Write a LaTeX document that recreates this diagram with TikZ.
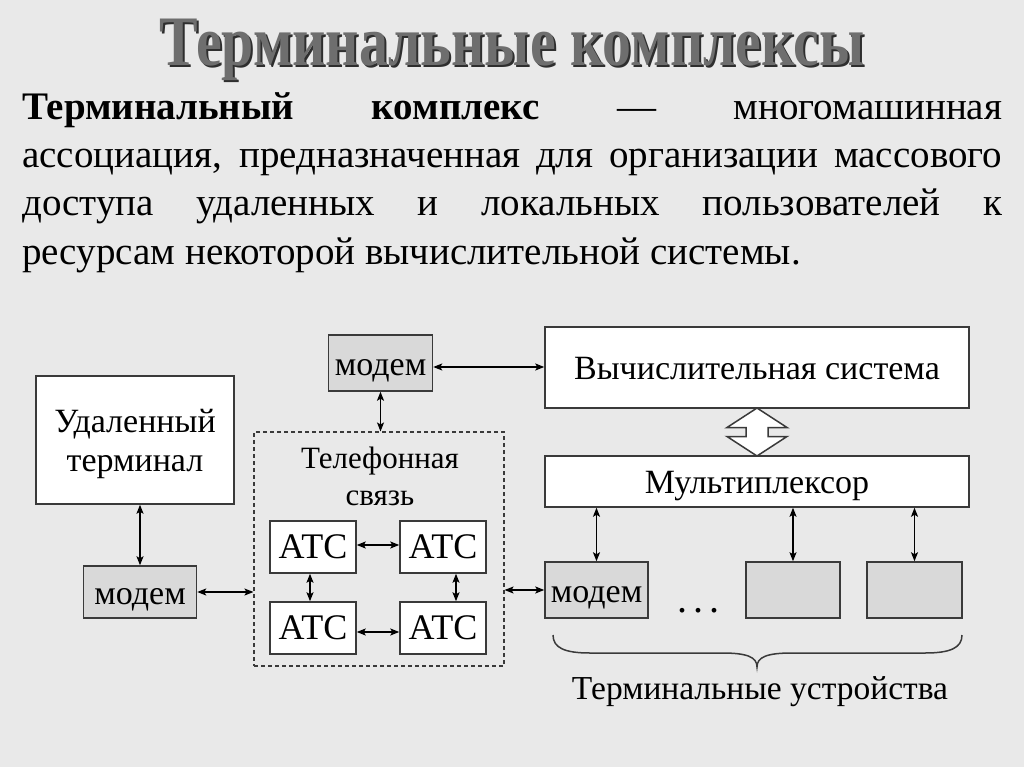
\documentclass[tikz,border=0pt]{standalone}
\usepackage{graphicx}
\usepackage{fontspec}
\setmainfont{Liberation Serif}
\usetikzlibrary{arrows.meta,calc}
\definecolor{bg}{HTML}{E9E9E9}
\definecolor{boxgray}{HTML}{D9D9D9}
\definecolor{edge}{HTML}{3A3A3A}
\definecolor{titlegray}{HTML}{6E6E6E}
\definecolor{titleshadow}{HTML}{2E2E2E}
\newcommand{\jline}[1]{\hbox to 980pt{\spaceskip=0.25em plus 1fil minus 0.1em #1}}
\begin{document}
\begin{tikzpicture}[x=1pt,y=-1pt,
  box/.style={draw=edge,line width=1.5pt,fill=white,inner sep=0pt,font=\fontsize{34}{38}\selectfont},
  onebox/.style={box,text height=24pt,text depth=0pt},
  graybox/.style={onebox,fill=boxgray},
  atcbox/.style={onebox,minimum width=86pt,minimum height=52pt,font=\fontsize{36}{40}\selectfont,text height=22pt},
  link/.style={{Stealth[length=9pt,width=7pt,inset=2pt]}-{Stealth[length=9pt,width=7pt,inset=2pt]},line width=1.4pt,black},
  bodyline/.style={anchor=base west,inner sep=0pt,font=\fontsize{39}{48}\selectfont},
  label/.style={anchor=base,inner sep=0pt,font=\fontsize{34}{38}\selectfont},
  titlefont/.style={anchor=base,inner sep=0pt,font=\fontsize{71}{72}\selectfont\bfseries},
]
\fill[bg] (0,0) rectangle (1024,767);
\useasboundingbox (0,0) rectangle (1024,767);

% title (shadow, then face)
\node[titlefont,text=titleshadow] (titleshadow) at (514,68) {\scalebox{0.815}[1]{Терминальные комплексы}};
\node[titlefont,text=titlegray] (title) at (512,66) {\scalebox{0.815}[1]{Терминальные комплексы}};

% body text
\node[bodyline] (l1) at (22,120) {\jline{\textbf{Терминальный} \textbf{комплекс} — многомашинная}};
\node[bodyline] (l2) at (22,168) {\jline{ассоциация, предназначенная для организации массового}};
\node[bodyline] (l3) at (22,216) {\jline{доступа удаленных и локальных пользователей к}};
\node[bodyline] (l4) at (22,264) {ресурсам некоторой вычислительной системы.};

% diagram nodes
\node[box,minimum width=198pt,minimum height=128pt] (term) at (135,440)
  {\raisebox{-11pt}[0pt][0pt]{\begin{tabular}{@{}c@{}}Удаленный\\[1pt]терминал\end{tabular}}};
\node[graybox,minimum width=113pt,minimum height=52pt] (modemL) at (140,592) {модем};
\node[graybox,minimum width=104pt,minimum height=56pt] (modemT) at (380.5,363) {модем};
\node[onebox,minimum width=424pt,minimum height=81pt] (vs) at (757,367.5) {Вычислительная система};
\node[onebox,minimum width=424pt,minimum height=51pt] (mux) at (757,481.5) {Мультиплексор};
\node[graybox,minimum width=103pt,minimum height=56pt] (modemR) at (596.5,590) {модем};
\node[graybox,minimum width=94pt,minimum height=56pt] (dev2) at (793,590) {};
\node[graybox,minimum width=95pt,minimum height=56pt] (dev3) at (914.5,590) {};

\node[draw=edge,line width=1.1pt,dash pattern=on 4pt off 3pt,minimum width=250pt,minimum height=234pt,inner sep=0pt] (tel) at (379,549) {};
\node[label,font=\fontsize{31}{37}\selectfont] (tel1) at (380,468) {Телефонная};
\node[label,font=\fontsize{31}{37}\selectfont] (tel2) at (380,505) {связь};

\node[atcbox] (atc1) at (313,547) {АТС};
\node[atcbox] (atc2) at (443,547) {АТС};
\node[atcbox] (atc3) at (313,628) {АТС};
\node[atcbox] (atc4) at (443,628) {АТС};

\node[label,font=\fontsize{40}{40}\selectfont] (dots) at (698,612) {.\hspace{6pt}.\hspace{6pt}.};
\node[label,font=\fontsize{33.5}{38}\selectfont] (tdev) at (760,699) {Терминальные устройства};

% connectors
\draw[link] (term.south -| modemL.north) -- (modemL.north);
\draw[link] (modemL.east) -- (modemL.east -| tel.west);
\draw[link] (modemT.south) -- (modemT.south |- tel.north);
\draw[link] ([yshift=-4pt]modemT.east) -- ([yshift=-4pt]modemT.east -| vs.west);
\draw[link] (tel.east |- modemR.west) -- (modemR.west);
\draw[link] (modemR.north |- mux.south) -- (modemR.north);
\draw[link] (dev2.north |- mux.south) -- (dev2.north);
\draw[link] (dev3.north |- mux.south) -- (dev3.north);
\draw[link] ([yshift=2pt]atc1.east) -- ([yshift=2pt]atc2.west);
\draw[link] ([yshift=-4pt]atc3.east) -- ([yshift=-4pt]atc4.west);
\draw[link] ([xshift=-3pt]atc1.south) -- ([xshift=-3pt]atc3.north);
\draw[link] ([xshift=13pt]atc2.south) -- ([xshift=13pt]atc4.north);

% hollow double arrow
\coordinate (dbl) at ($(vs.south)!0.5!(mux.north)$);
\draw[edge,line width=1.5pt,fill=white,line join=miter,shift={(dbl)}]
  (0,-24) -- (30,-4.5) -- (11,-4.5) -- (11,4.5) -- (30,4.5) -- (0,24)
  -- (-30,4.5) -- (-11,4.5) -- (-11,-4.5) -- (-30,-4.5) -- cycle;

% brace
\draw[edge,line width=1.5pt]
  (553,635) .. controls (553,648) and (565,653) .. (590,653) -- (722,653)
  .. controls (747,653) and (757,657) .. (757,667)
  .. controls (757,657) and (767,653) .. (792,653) -- (925,653)
  .. controls (950,653) and (962,648) .. (962,635);
\end{tikzpicture}
\end{document}
